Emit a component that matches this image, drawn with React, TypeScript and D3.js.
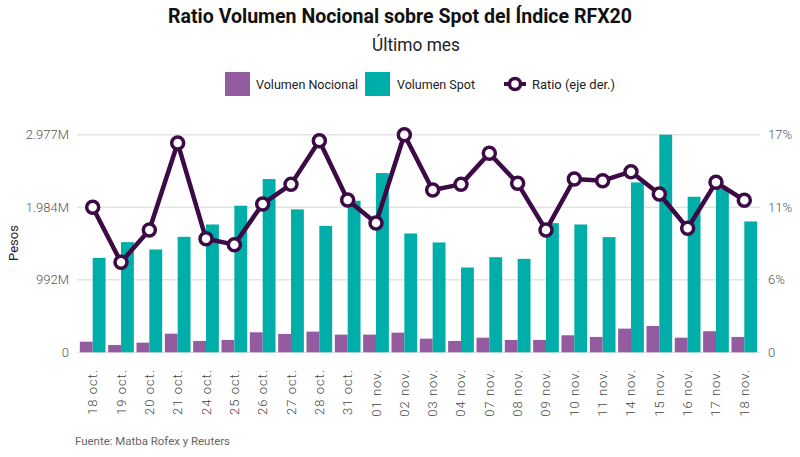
import { useMemo } from 'react'
import * as d3 from 'd3'

// Fechas (eje X)
const fechas = [
  '18 oct.', '19 oct.', '20 oct.', '21 oct.', '24 oct.', '25 oct.', '26 oct.', '27 oct.',
  '28 oct.', '31 oct.', '01 nov.', '02 nov.', '03 nov.', '04 nov.', '07 nov.', '08 nov.',
  '09 nov.', '10 nov.', '11 nov.', '14 nov.', '15 nov.', '16 nov.', '17 nov.', '18 nov.',
]

// Volumen nocional (millones de pesos)
const volNocional = [
  145, 100, 132, 255, 155, 169, 274, 251, 283, 242, 242, 269,
  187, 155, 200, 169, 169, 233, 210, 324, 360, 200, 288, 210,
]

// Volumen spot (millones de pesos)
const volSpot = [
  1292, 1507, 1407, 1580, 1749, 2005, 2370, 1955, 1730, 2073, 2452, 1626,
  1503, 1160, 1301, 1279, 1767, 1749, 1576, 2324, 2977, 2128, 2242, 1790,
]

// Ratio nocional / spot (%)
const ratio = [
  11.33, 7.03, 9.55, 16.35, 8.87, 8.41, 11.59, 13.12, 16.53, 11.9, 10.1, 17.0,
  12.68, 13.12, 15.55, 13.2, 9.55, 13.54, 13.41, 14.11, 12.37, 9.69, 13.28, 11.88,
]

const leftTicks = [0, 992.3, 1984.7, 2977]
const leftTickLabels = ['0', '992M', '1.984M', '2.977M']
const rightTicks = [0, 17 / 3, (17 * 2) / 3, 17]
const rightTickLabels = ['0', '6%', '11%', '17%']

const COLOR_NOCIONAL = '#955ba1'
const COLOR_SPOT = '#00aea9'
const COLOR_RATIO = '#3c0a45'

export default function App() {
  const width = 800
  const height = 457
  const plot = { left: 77, right: 760, top: 134.7, bottom: 352.3 }

  const x = useMemo(
    () => d3.scaleBand<string>().domain(fechas).range([plot.left, plot.right]).paddingInner(0.093).paddingOuter(0.1),
    []
  )
  const yLeft = useMemo(() => d3.scaleLinear().domain([0, 2977]).range([plot.bottom, plot.top]), [])
  const yRight = useMemo(() => d3.scaleLinear().domain([0, 17]).range([plot.bottom, plot.top]), [])

  const bw = x.bandwidth()
  const half = bw / 2

  const linePath = d3
    .line<number>()
    .x((_, i) => (x(fechas[i]) || 0) + half)
    .y(d => yRight(d))(ratio) || ''

  const font = 'Roboto, "Noto Sans", sans-serif'

  return (
    <svg
      width={width}
      height={height}
      style={{ position: 'absolute', left: 0, top: 0, background: '#fff' }}
      fontFamily={font}
    >
      {/* Titulo */}
      <text x={400} y={23} textAnchor="middle" fontSize={21} fontWeight={700} fill="#111"
        textLength={464} lengthAdjust="spacingAndGlyphs">
        Ratio Volumen Nocional sobre Spot del Índice RFX20
      </text>
      <text x={416} y={51} textAnchor="middle" fontSize={18.5} fill="#222"
        textLength={88} lengthAdjust="spacingAndGlyphs">
        Último mes
      </text>

      {/* Leyenda */}
      <rect x={225} y={72} width={25} height={24} fill={COLOR_NOCIONAL} />
      <text x={256} y={89} fontSize={13.5} fill="#222" textLength={102} lengthAdjust="spacingAndGlyphs">Volumen Nocional</text>
      <rect x={365} y={72} width={25} height={24} fill={COLOR_SPOT} />
      <text x={397} y={89} fontSize={13.5} fill="#222" textLength={78} lengthAdjust="spacingAndGlyphs">Volumen Spot</text>
      <line x1={504} x2={526} y1={84} y2={84} stroke={COLOR_RATIO} strokeWidth={4} />
      <circle cx={515} cy={84} r={5.5} fill="#fff" stroke={COLOR_RATIO} strokeWidth={3.5} />
      <text x={532} y={89} fontSize={13.5} fill="#222" textLength={83} lengthAdjust="spacingAndGlyphs">Ratio (eje der.)</text>

      {/* Grilla */}
      {leftTicks.map((t, i) => (
        <line key={'g' + i} x1={plot.left} x2={plot.right} y1={yLeft(t)} y2={yLeft(t)}
          stroke="#e4e4e4" strokeWidth={1.5} />
      ))}

      {/* Eje izquierdo */}
      {leftTicks.map((t, i) => (
        <text key={'l' + i} x={69} y={yLeft(t) + 4.5} textAnchor="end" fontSize={13} fill="#555" fontWeight={300}>
          {leftTickLabels[i]}
        </text>
      ))}
      <text transform={`translate(18,${243}) rotate(-90)`} textAnchor="middle" fontSize={13} fill="#222">
        Pesos
      </text>

      {/* Eje derecho */}
      {rightTicks.map((t, i) => (
        <text key={'r' + i} x={768} y={yRight(t) + 4.5} textAnchor="start" fontSize={13} fill="#555" fontWeight={300}>
          {rightTickLabels[i]}
        </text>
      ))}

      {/* Barras */}
      {fechas.map((f, i) => (
        <g key={'b' + f}>
          <rect x={x(f)} y={yLeft(volNocional[i])} width={half}
            height={plot.bottom - yLeft(volNocional[i])} fill={COLOR_NOCIONAL} />
          <rect x={(x(f) || 0) + half} y={yLeft(volSpot[i])} width={half}
            height={plot.bottom - yLeft(volSpot[i])} fill={COLOR_SPOT} />
        </g>
      ))}

      {/* Linea ratio */}
      <path d={linePath} fill="none" stroke={COLOR_RATIO} strokeWidth={4.5} strokeLinejoin="round" />
      {ratio.map((r, i) => (
        <circle key={'c' + i} cx={(x(fechas[i]) || 0) + half} cy={yRight(r)} r={6}
          fill="#fff" stroke={COLOR_RATIO} strokeWidth={3.5} />
      ))}

      {/* Etiquetas eje X */}
      {fechas.map(f => (
        <text key={'x' + f}
          transform={`translate(${(x(f) || 0) + half + 4.5},369) rotate(-90)`}
          textAnchor="end" fontSize={13} fill="#444" fontWeight={300} letterSpacing={1}>
          {f}
        </text>
      ))}

      {/* Fuente */}
      <text x={75} y={445} fontSize={11.5} fill="#666" textLength={155} lengthAdjust="spacingAndGlyphs">
        Fuente: Matba Rofex y Reuters
      </text>
    </svg>
  )
}
